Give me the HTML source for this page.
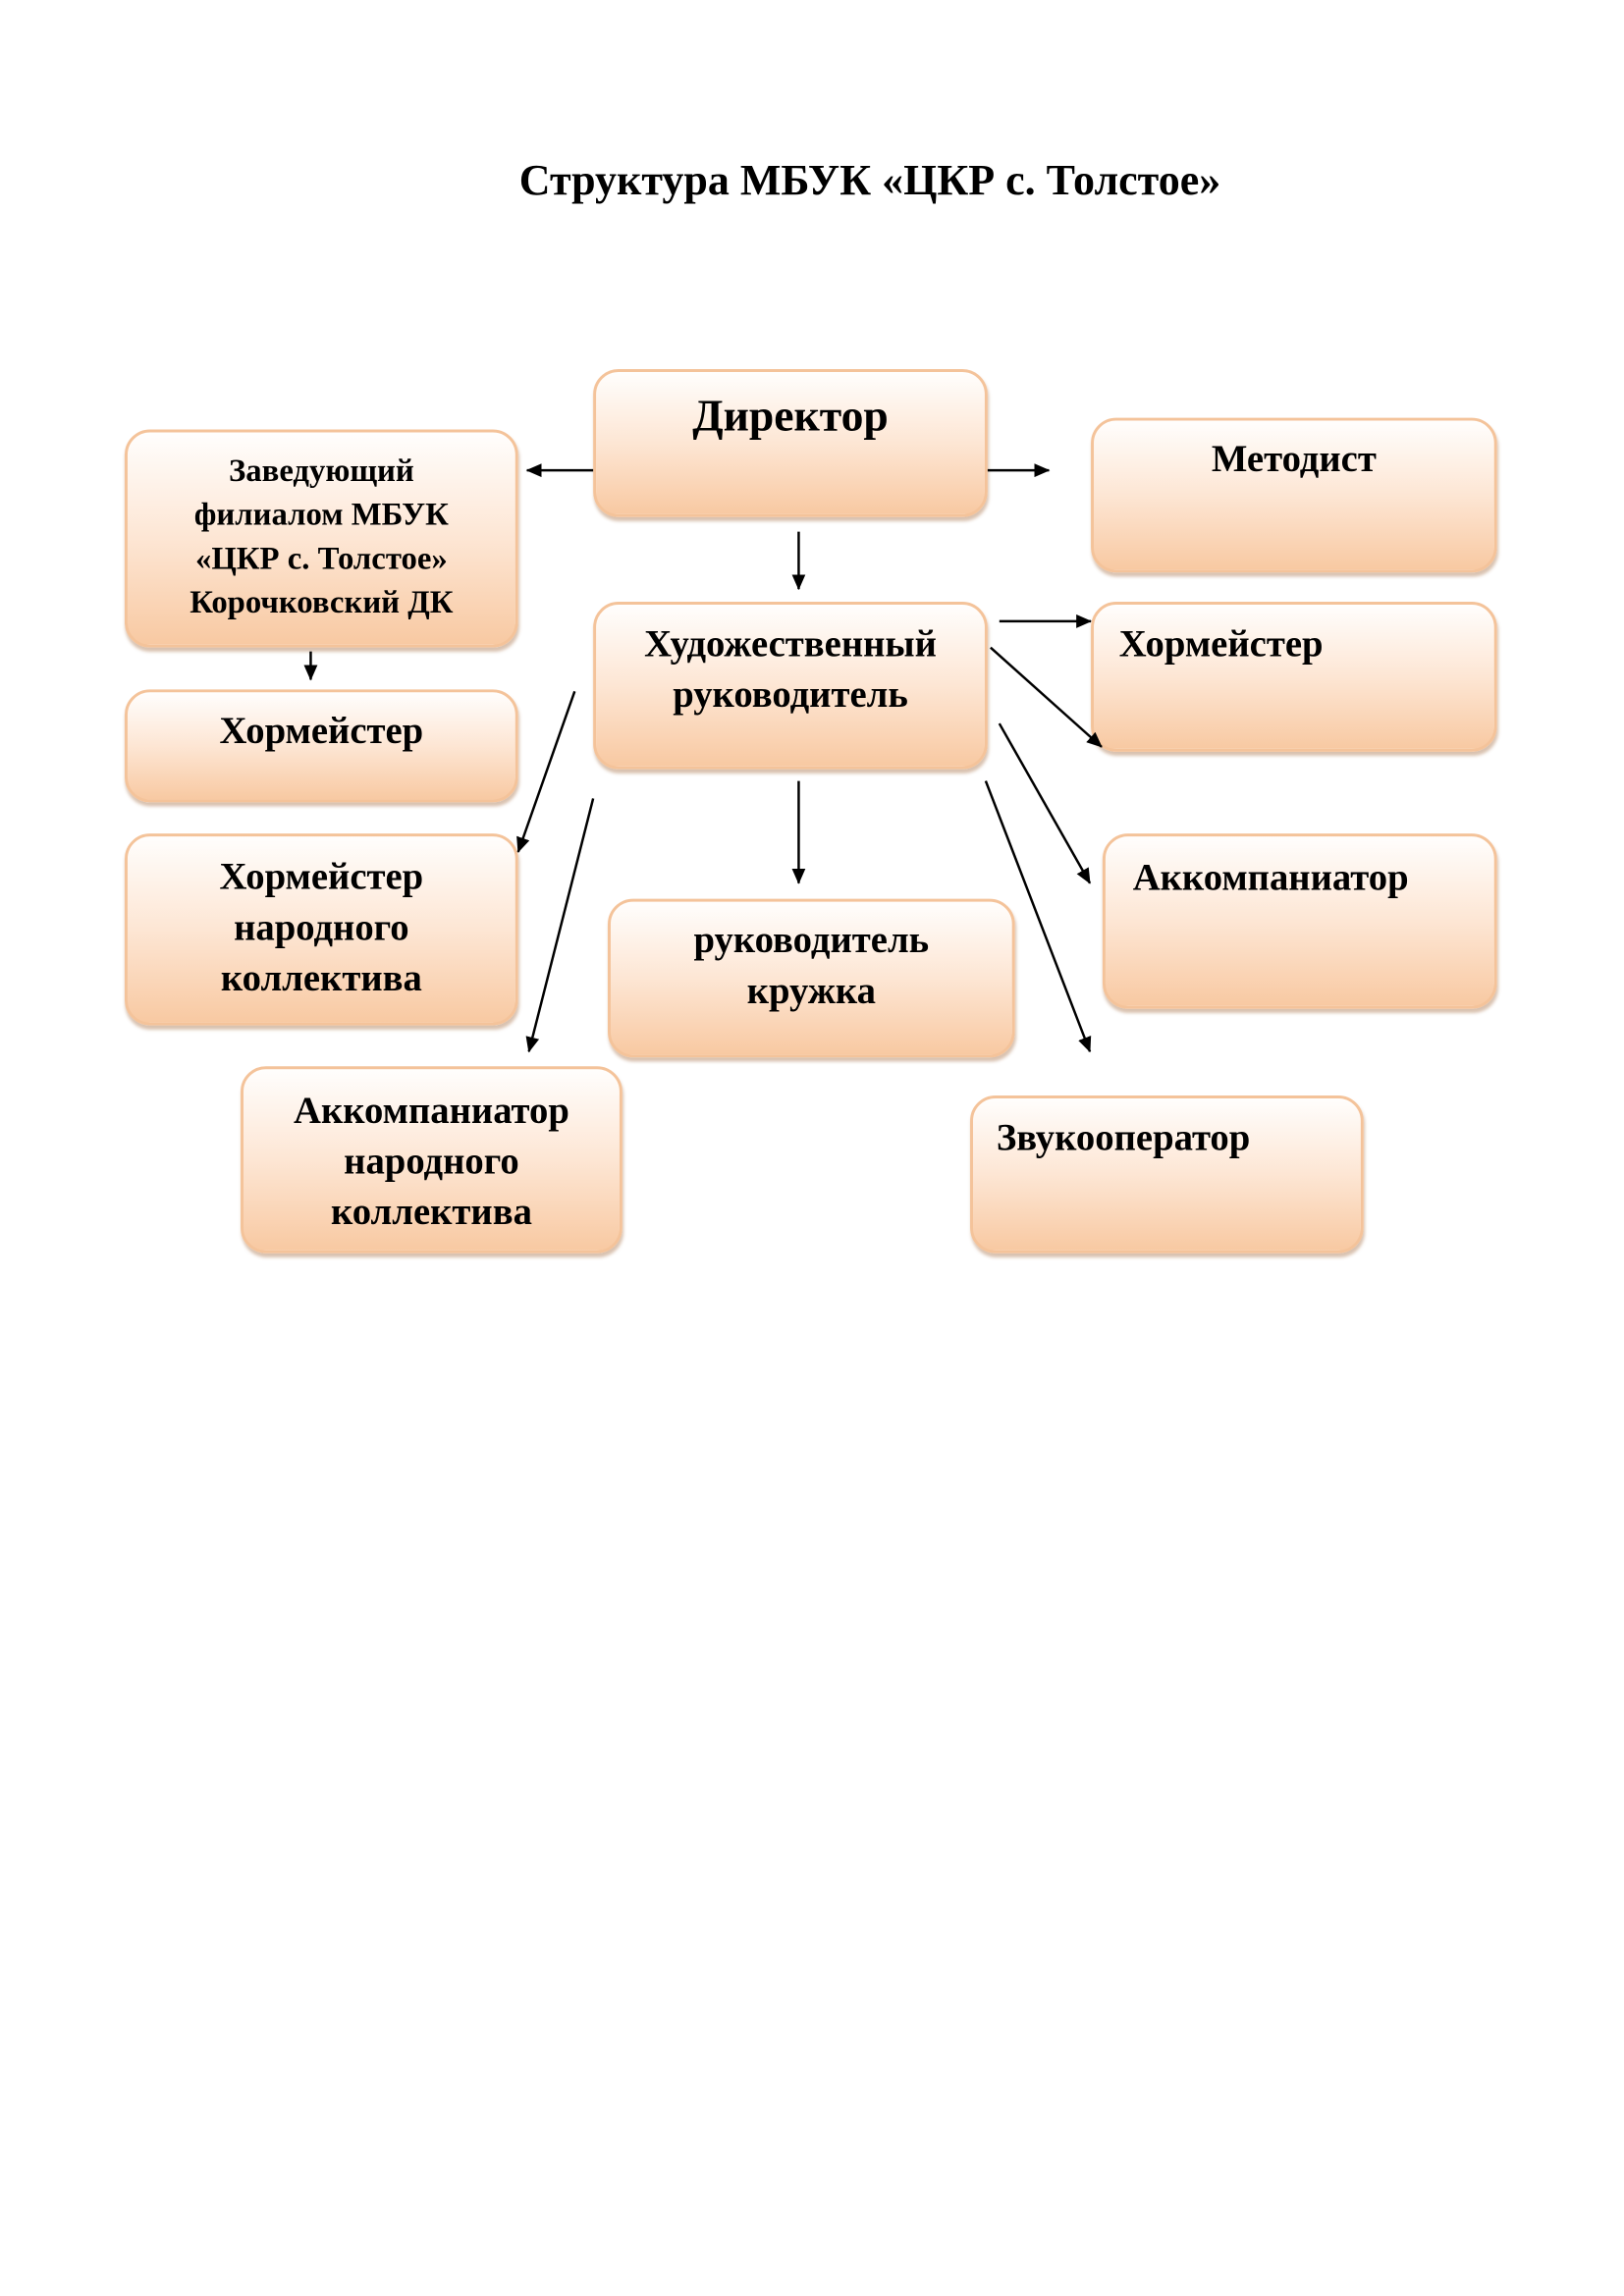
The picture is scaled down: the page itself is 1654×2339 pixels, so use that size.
<!DOCTYPE html>
<html><head><meta charset="utf-8"><style>
body{margin:0;width:1654px;height:2339px;background:#fff;position:relative;font-family:"Liberation Serif",serif;font-weight:bold;color:#000;overflow:hidden}
.t{position:absolute;left:0;width:1772px;top:158px;text-align:center;font-size:44px}
#w{position:absolute;left:0;top:0;width:1654px;height:2339px;transform:scale(0.992);transform-origin:0 0}
.b{position:absolute;box-sizing:border-box;border:3px solid #f4c39a;border-radius:26px;background:linear-gradient(#fffefd 0%,#fde6d4 50%,#f8c9a2 100%);box-shadow:1px 4px 3px rgba(170,120,80,.45);text-align:center;font-size:39px;line-height:52px}
svg{position:absolute;left:0;top:0}
</style></head><body>
<div class="t">Структура МБУК «ЦКР с. Толстое»</div>
<div id="w">
<div class="b" style="left:609px;top:379px;width:405px;height:152px;padding-top:19px;font-size:46px">Директор</div>
<div class="b" style="left:128px;top:441px;width:404px;height:224px;padding-top:18px;font-size:33px;line-height:45px">Заведующий<br>филиалом МБУК<br>«ЦКР с. Толстое»<br>Корочковский ДК</div>
<div class="b" style="left:1120px;top:429px;width:417px;height:159px;padding-top:14px">Методист</div>
<div class="b" style="left:609px;top:618px;width:405px;height:172px;padding-top:15px">Художественный<br>руководитель</div>
<div class="b" style="left:1120px;top:618px;width:417px;height:154px;padding-top:15px;text-align:left;padding-left:26px">Хормейстер</div>
<div class="b" style="left:128px;top:708px;width:404px;height:116px;padding-top:14px">Хормейстер</div>
<div class="b" style="left:128px;top:856px;width:404px;height:197px;padding-top:16px">Хормейстер<br>народного<br>коллектива</div>
<div class="b" style="left:624px;top:923px;width:418px;height:163px;padding-top:14px">руководитель<br>кружка</div>
<div class="b" style="left:1132px;top:856px;width:405px;height:180px;padding-top:17px;text-align:left;padding-left:28px">Аккомпаниатор</div>
<div class="b" style="left:247px;top:1095px;width:392px;height:192px;padding-top:17px">Аккомпаниатор<br>народного<br>коллектива</div>
<div class="b" style="left:996px;top:1125px;width:404px;height:162px;padding-top:15px;text-align:left;padding-left:24px">Звукооператор</div>
<svg width="1654" height="2339">
<defs><marker id="m" markerWidth="16" markerHeight="14" refX="15" refY="7" orient="auto" markerUnits="userSpaceOnUse"><path d="M0,0L16,7L0,14z" fill="#000"/></marker></defs>
<g stroke="#000" stroke-width="2.5" marker-end="url(#m)">
<line x1="609" y1="483" x2="541" y2="483"/>
<line x1="1014" y1="483" x2="1077" y2="483"/>
<line x1="820" y1="546" x2="820" y2="605"/>
<line x1="319" y1="669" x2="319" y2="698"/>
<line x1="1026" y1="638" x2="1120" y2="638"/>
<line x1="1017" y1="665" x2="1131" y2="767"/>
<line x1="1026" y1="743" x2="1119" y2="907"/>
<line x1="1012" y1="802" x2="1119" y2="1080"/>
<line x1="820" y1="802" x2="820" y2="907"/>
<line x1="590" y1="710" x2="532" y2="875"/>
<line x1="609" y1="820" x2="543" y2="1080"/>
</g></svg>
</div>
</body></html>
